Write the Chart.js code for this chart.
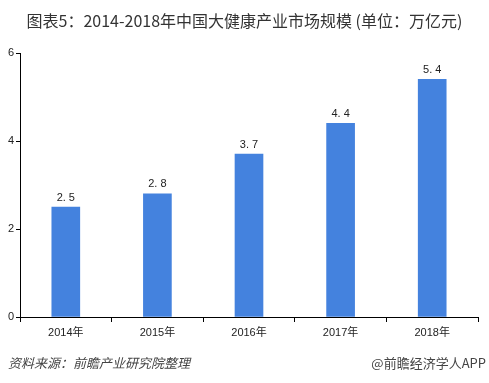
<!DOCTYPE html>
<html>
<head>
<meta charset="utf-8">
<script src="https://cdn.jsdelivr.net/npm/chart.js@4.4.0/dist/chart.umd.min.js"></script>
<style>
  html, body { margin:0; padding:0; background:#fff; }
  #wrap { position:relative; width:489px; height:383px; font-family:"Noto Sans CJK SC", "Liberation Sans", sans-serif; }
  #title { position:absolute; left:0; top:8px; width:489px; text-align:center; font-size:16px; color:#333; }
  #src { position:absolute; left:8px; top:353px; font-size:13px; color:#444; font-style:italic; }
  #app { position:absolute; right:3px; top:353px; font-size:13px; color:#444; }
  canvas { position:absolute; left:0; top:0; }
</style>
</head>
<body>
<div id="wrap">
  <canvas id="c" width="489" height="383"></canvas>
  <div id="title">图表5：2014-2018年中国大健康产业市场规模 (单位：万亿元)</div>
  <div id="src">资料来源：前瞻产业研究院整理</div>
  <div id="app">@前瞻经济学人APP</div>
</div>
<script>
const years = ['2014年', '2015年', '2016年', '2017年', '2018年'];
const marketSize = [2.5, 2.8, 3.7, 4.4, 5.4];
const yTicks = [0, 2, 4, 6];

const valueLabels = {
    id: 'valueLabels',
    afterDatasetsDraw(chart){
        const ctx = chart.ctx;
        const meta = chart.getDatasetMeta(0);
        ctx.save();
        ctx.font = '11px "Liberation Sans", sans-serif';
        ctx.fillStyle = '#222';
        ctx.textAlign = 'center';
        ctx.textBaseline = 'bottom';
        meta.data.forEach((bar, i) => {
            const txt = marketSize[i].toFixed(1).replace('.', '. ');
            ctx.fillText(txt, bar.x, bar.y - 4);
        });
        ctx.restore();
    }
};

new Chart(document.getElementById('c'), {
    type: 'bar',
    data: { labels: years, datasets: [{ data: marketSize, backgroundColor: '#4482DE', barThickness: 28 }] },
    options: {
        responsive: false,
        animation: false,
        layout: { padding: { left: 0, right: 11, top: 53, bottom: 34 } },
        plugins: { legend: { display: false }, tooltip: { enabled: false } },
        scales: {
            x: {
                grid: { display: true, drawOnChartArea: false, offset: true, color: '#000', tickLength: 5, tickColor: '#000' },
                border: { color: '#000', width: 1 },
                ticks: { color: '#222', font: { size: 11, family: '"Liberation Sans", "Noto Sans CJK SC", sans-serif' }, padding: 4 },
                afterFit(s){ s.height = 32; }
            },
            y: {
                min: 0, max: 6,
                afterBuildTicks(s){ s.ticks = yTicks.map(v => ({ value: v })); },
                grid: { display: true, drawOnChartArea: false, color: '#000', tickLength: 4, tickColor: '#000' },
                border: { color: '#000', width: 1 },
                ticks: { color: '#222', font: { size: 11, family: '"Liberation Sans", sans-serif' }, padding: 2 },
                afterFit(s){ s.width = 20; }
            }
        }
    },
    plugins: [valueLabels]
});
</script>
</body>
</html>
